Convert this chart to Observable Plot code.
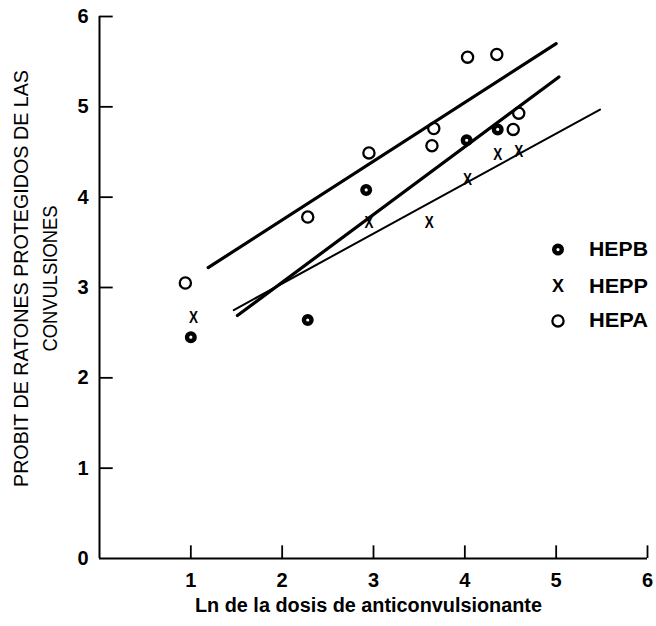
<!DOCTYPE html>
<html>
<head>
<meta charset="utf-8">
<script src="https://cdn.jsdelivr.net/npm/d3@7"></script>
<script src="https://cdn.jsdelivr.net/npm/@observablehq/plot@0.6"></script>
<style>
  html, body { margin: 0; padding: 0; background: #fff; }
  #chart { width: 656px; height: 626px; }
</style>
</head>
<body>
<div id="chart"></div>
<script>
// Dose (ln) and probit values per preparation
const hepaX = [0.94, 2.28, 2.95, 3.64, 3.66, 4.03, 4.35, 4.53, 4.59];
const hepaY = [3.05, 3.78, 4.49, 4.57, 4.76, 5.55, 5.58, 4.75, 4.93];
const hepbX = [1.00, 2.28, 2.92, 4.02, 4.36];
const hepbY = [2.45, 2.64, 4.08, 4.63, 4.75];
const heppX = [1.03, 2.95, 3.61, 4.03, 4.36, 4.59];
const heppY = [2.67, 3.72, 3.72, 4.19, 4.47, 4.50];

// Fitted regression lines (end points)
const fitAX = [1.19, 5.00];
const fitAY = [3.22, 5.70];
const fitBX = [1.51, 5.03];
const fitBY = [2.69, 5.33];
const fitPX = [1.47, 5.48];
const fitPY = [2.75, 4.97];

// Axis ticks, titles and legend
const xTicks = [1, 2, 3, 4, 5, 6];
const yTicks = [0, 1, 2, 3, 4, 5, 6];
const yTitle1 = "PROBIT DE RATONES PROTEGIDOS DE LAS";
const yTitle2 = "CONVULSIONES";
const xTitle = "Ln de la dosis de anticonvulsionante";
const legendLabels = ["HEPB", "HEPP", "HEPA"];

const pts = (xs, ys) => xs.map((x, i) => ({x, y: ys[i]}));
const hepa = pts(hepaX, hepaY);
const hepb = pts(hepbX, hepbY);
const hepp = pts(heppX, heppY);
const fitA = pts(fitAX, fitAY);
const fitB = pts(fitBX, fitBY);
const fitP = pts(fitPX, fitPY);

const FONT = "'Liberation Sans', Arial, sans-serif";

// legend rows, placed in data units at the right of the plot
const legendY = [3.42, 3.01, 2.63];
const legendX = 5.02;
const legend = legendLabels.map((label, i) => ({label, y: legendY[i]}));

const ringB = {r: 3.8, stroke: "#000", strokeWidth: 4.4, fill: "#fff"};
const ringA = {r: 5.6, stroke: "#000", strokeWidth: 2.3, fill: "none"};

const chart = Plot.plot({
  width: 656,
  height: 626,
  marginLeft: 99,
  marginRight: 9,
  marginTop: 16,
  marginBottom: 68,
  x: {domain: [0, 6]},
  y: {domain: [0, 6]},
  style: {fontFamily: FONT, background: "#fff", color: "#000"},
  marks: [
    // axis lines
    Plot.ruleX([0], {y1: 0, y2: 6, strokeWidth: 2}),
    Plot.ruleY([0], {x1: 0, x2: 6, strokeWidth: 2}),
    // inward ticks
    Plot.ruleX(xTicks, {x: d => d, y1: 0, y2: 0.14, strokeWidth: 1.8}),
    Plot.ruleY(yTicks.filter(d => d > 0), {y: d => d, x1: 0, x2: 0.15, strokeWidth: 1.8}),
    // tick labels
    Plot.axisX(xTicks, {tickSize: 0, tickPadding: 14, fontSize: 20, fontWeight: "bold", tickFormat: d3.format("d"), label: null}),
    Plot.axisY(yTicks, {tickSize: 0, tickPadding: 11, fontSize: 20, fontWeight: "bold", tickFormat: d3.format("d"), label: null}),
    // axis titles
    Plot.text([yTitle1], {frameAnchor: "left", textAnchor: "middle", rotate: -90, dx: -78, dy: -9, fontSize: 20.5}),
    Plot.text([yTitle2], {frameAnchor: "left", textAnchor: "middle", rotate: -90, dx: -49, dy: -9, fontSize: 20.5}),
    Plot.text([xTitle], {frameAnchor: "bottom", dy: 53, dx: -5, fontSize: 20, fontWeight: "bold"}),
    // fitted lines
    Plot.line(fitA, {x: "x", y: "y", strokeWidth: 3.2}),
    Plot.line(fitB, {x: "x", y: "y", strokeWidth: 3.2}),
    Plot.line(fitP, {x: "x", y: "y", strokeWidth: 2}),
    // observations
    Plot.dot(hepa, {x: "x", y: "y", ...ringA}),
    Plot.dot(hepb, {x: "x", y: "y", ...ringB}),
    Plot.text(hepp, {x: "x", y: "y", text: () => "X", fontSize: 17, fontWeight: "bold", ariaDescription: "hepp-points"}),
    // legend
    Plot.dot(legend.slice(0, 1), {x: () => legendX, y: "y", ...ringB}),
    Plot.text(legend.slice(1, 2), {x: () => legendX, y: "y", text: () => "X", fontSize: 18, fontWeight: "bold"}),
    Plot.dot(legend.slice(2, 3), {x: () => legendX, y: "y", ...ringA}),
    Plot.text(legend, {x: () => legendX, y: "y", text: "label", dx: 31, textAnchor: "start", fontSize: 20.5, fontWeight: "bold"})
  ]
});

// condensed lettering: fit the long titles, legend labels and point marks to their widths
const fitLength = (sel, len) => sel.attr("textLength", len).attr("lengthAdjust", "spacingAndGlyphs");
const byText = content => d3.select(chart).selectAll("text")
  .filter(function () { return this.textContent === content; });
fitLength(byText(yTitle1), 417);
fitLength(byText(yTitle2), 146);
fitLength(byText(xTitle), 347);
legendLabels.forEach(l => fitLength(byText(l), 59));
fitLength(d3.select(chart).selectAll('g[aria-description="hepp-points"] text'), 9);

document.getElementById("chart").appendChild(chart);
</script>
</body>
</html>
